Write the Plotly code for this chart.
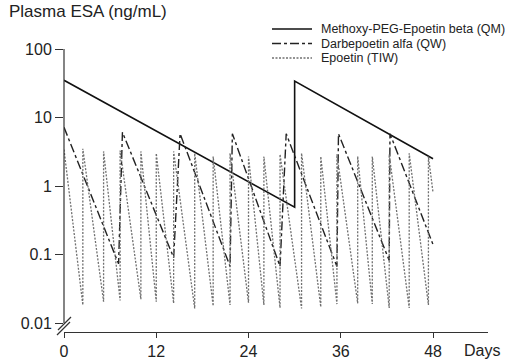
import plotly.graph_objects as go

# ---- data ----
# Methoxy-PEG-Epoetin beta (QM)
mircera_days = [0, 30, 30, 48]
mircera_vals = [35, 0.49, 34, 2.5]

# Darbepoetin alfa (QW)
darbe_start_day = 0
darbe_start_val = 7.2
darbe_trough_days = [7.1, 14.26, 21.6, 28.1, 35.5, 42.3]
darbe_trough_vals = [0.073, 0.09, 0.067, 0.067, 0.067, 0.082]
darbe_peak_days = [7.6, 15.1, 21.9, 28.9, 35.7, 42.4]
darbe_peak_vals = [6.1, 5.8, 5.8, 5.8, 5.8, 5.8]
darbe_end_day = 48
darbe_end_val = 0.14

# Epoetin (TIW)
epo_dose_days = [0, 2.45, 5.15, 7.3, 10.0, 12.0, 14.26, 17.0, 19.4, 21.6, 24.0,
                 26.0, 28.1, 30.9, 33.4, 35.5, 38.2, 40.1, 42.3, 44.9, 47.4]
epo_peaks = [3.4, 3.5, 3.2, 3.3, 3.2, 3.0, 3.2, 3.0, 2.7, 3.0, 2.7,
             2.7, 2.9, 3.0, 2.7, 2.9, 2.7, 2.7, 2.9, 3.0, 2.7]
epo_troughs = [0.0183, 0.0205, 0.0213, 0.0223, 0.0205, 0.0194, 0.0163, 0.0178,
               0.0183, 0.0198, 0.0183, 0.0166, 0.0163, 0.0172, 0.0189, 0.0194,
               0.0189, 0.0166, 0.0166, 0.0183]
epo_end_day = 48
epo_end_val = 0.8

x_ticks = [0, 12, 24, 36, 48]
y_ticks = [0.01, 0.1, 1, 10, 100]
y_ticktext = ["0.01", "0.1", "1", "10", "100"]

series_names = ["Methoxy-PEG-Epoetin beta (QM)", "Darbepoetin alfa (QW)", "Epoetin (TIW)"]

# ---- build polylines ----
dx = [darbe_start_day]
dy = [darbe_start_val]
for td, tv, pd_, pv in zip(darbe_trough_days, darbe_trough_vals, darbe_peak_days, darbe_peak_vals):
    dx += [td, pd_]
    dy += [tv, pv]
dx.append(darbe_end_day)
dy.append(darbe_end_val)

ex = [epo_dose_days[0]]
ey = [epo_peaks[0]]
for d, tr, pk in zip(epo_dose_days[1:], epo_troughs, epo_peaks[1:]):
    ex += [d, d]
    ey += [tr, pk]
ex.append(epo_end_day)
ey.append(epo_end_val)

FONT = "Liberation Sans, Arial, sans-serif"
TXT = "#222222"
styles = [dict(color="#111111", width=1.6),
          dict(color="#222222", width=1.4, dash="dashdot"),
          dict(color="#707070", width=1.3, dash="2px,1.5px")]

fig = go.Figure()
for name, xs, ys, st in zip(series_names, [mircera_days, dx, ex],
                            [mircera_vals, dy, ey], styles):
    fig.add_trace(go.Scatter(x=xs, y=ys, mode="lines", name=name, line=st,
                             showlegend=False))

L, R, T, B = 64, 21, 49, 32
W, H = 509, 364
pw = W - L - R
ph = H - T - B

def px2paper(x, y):
    return (x - L) / pw, (H - B - y) / ph

ymin = -2 - 9 / 68.5

fig.update_layout(
    width=W, height=H,
    margin=dict(l=L, r=R, t=T, b=B, autoexpand=False),
    paper_bgcolor="white", plot_bgcolor="white",
    font=dict(family=FONT, color=TXT, size=16),
    showlegend=False,
    xaxis=dict(range=[0, 55.15], tickvals=x_ticks, ticktext=[str(v) for v in x_ticks],
               showline=True, linecolor="#333333", linewidth=1.2,
               ticks="outside", ticklen=5, tickcolor="#333333", tickwidth=1.2,
               showgrid=False, zeroline=False, tickfont=dict(size=16)),
    yaxis=dict(type="log", range=[ymin, 2], tickvals=y_ticks, ticktext=y_ticktext,
               showline=False, ticks="outside", ticklen=8, tickcolor="#333333",
               tickwidth=1.2, showgrid=False, zeroline=False, tickfont=dict(size=16)),
)

# y axis line (broken at the bottom)
y001 = (-2 - ymin) / (2 - ymin)
fig.add_shape(type="line", xref="paper", yref="paper", x0=0, x1=0, y0=y001, y1=1,
              line=dict(color="#333333", width=1.2))
# break marks
for (x0, y0, x1, y1) in [(57, 335, 70, 322), (58, 330, 71, 317)]:
    a0, b0 = px2paper(x0, y0)
    a1, b1 = px2paper(x1, y1)
    fig.add_shape(type="line", xref="paper", yref="paper", x0=a0, y0=b0, x1=a1, y1=b1,
                  line=dict(color="#333333", width=1.2))

# legend (drawn manually to match compact spacing)
for i, (name, st) in enumerate(zip(series_names, styles)):
    yrow = 29 + i * 14.5
    a0, b0 = px2paper(272, yrow)
    a1, _ = px2paper(312, yrow)
    fig.add_shape(type="line", xref="paper", yref="paper", x0=a0, x1=a1, y0=b0, y1=b0,
                  line=st)
    tx, ty = px2paper(319, yrow)
    fig.add_annotation(text=name, xref="paper", yref="paper", x=tx, y=ty,
                       xanchor="left", yanchor="middle", showarrow=False,
                       font=dict(size=12.5, family=FONT, color=TXT))

tx, ty = px2paper(7, 12)
fig.add_annotation(text="Plasma ESA (ng/mL)", xref="paper", yref="paper", x=tx, y=ty,
                   xanchor="left", yanchor="middle", showarrow=False,
                   font=dict(size=17, family=FONT, color=TXT))
dxp, dyp = px2paper(482, 350)
fig.add_annotation(text="Days", xref="paper", yref="paper", x=dxp, y=dyp,
                   xanchor="center", yanchor="middle", showarrow=False,
                   font=dict(size=16, family=FONT, color=TXT))

fig.write_html("out.html",
               config={"displayModeBar": False},
               post_script="document.body.style.margin='0';document.body.style.overflow='hidden';")
